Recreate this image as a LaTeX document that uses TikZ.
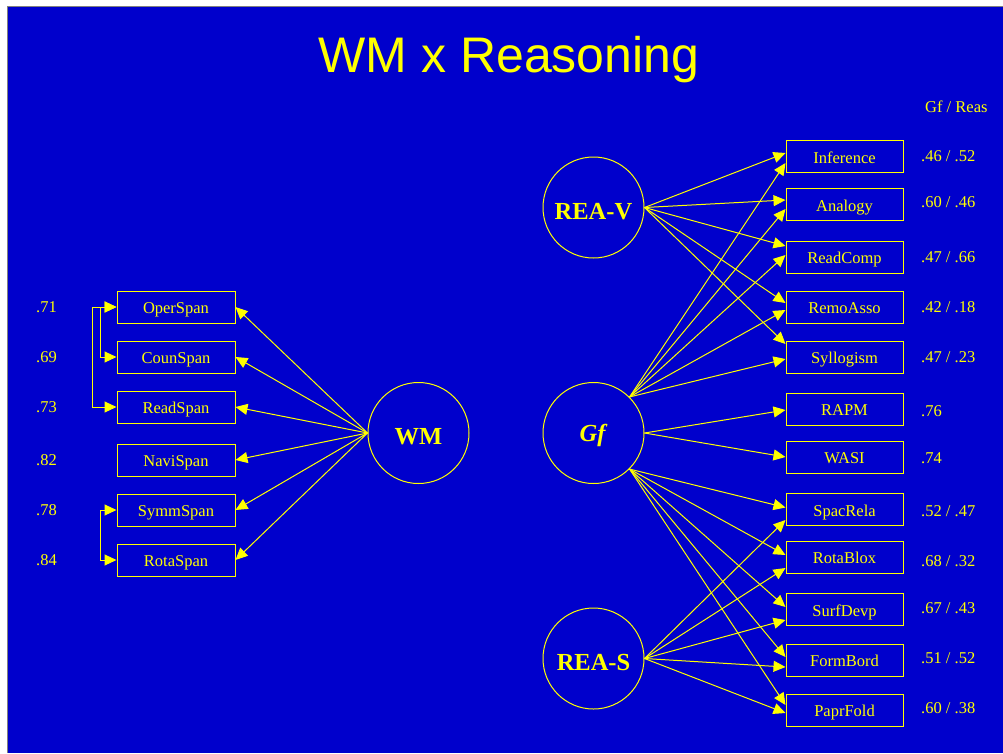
\documentclass[tikz,border=0pt]{standalone}
\usepackage{fontspec}
\setmainfont{Liberation Serif}
\newfontfamily\titlefont{Liberation Sans}
\usetikzlibrary{arrows.meta}
\definecolor{bg}{HTML}{0000CC}
\definecolor{fg}{HTML}{FFFF00}
\definecolor{edgegray}{HTML}{808080}
\tikzset{
  boxnode/.style={draw=fg, line width=1pt, minimum width=118pt, minimum height=32pt, inner sep=0pt,
    text=fg, font=\fontsize{16.5}{18}\selectfont, text height=13pt, text depth=0pt},
  latnode/.style={circle, draw=fg, line width=1pt, minimum size=101pt, inner sep=0pt,
    text=fg, font=\fontsize{24.5}{26}\selectfont\bfseries, text height=23pt, text depth=0pt},
  numlab/.style={anchor=west, inner sep=0pt, text=fg, font=\fontsize{16.5}{18}\selectfont},
  arr/.style={draw=fg, line width=1pt, -{Triangle[length=12pt,width=11pt]}},
  dblarr/.style={draw=fg, line width=1pt, {Triangle[length=12pt,width=11pt]}-{Triangle[length=12pt,width=11pt]}}
}
\begin{document}
\begin{tikzpicture}[x=1pt,y=-1pt]
\useasboundingbox (0,0) rectangle (1003,753);
\fill[white] (0,0) rectangle (1003,753);
\fill[edgegray] (6.5,5.5) rectangle (1003,753);
\fill[bg] (8,7) rectangle (1003,753);

% title
\node[anchor=base, inner sep=0pt, text=fg, font=\titlefont\fontsize{50}{56}\selectfont] (title) at (509,72) {WM x Reasoning};
\node[numlab] (head) at (925,107) {Gf / Reas};

% left boxes
\node[boxnode] (OperSpan) at (176,307) {OperSpan};
\node[boxnode] (CounSpan) at (176,357) {CounSpan};
\node[boxnode] (ReadSpan) at (176,407) {ReadSpan};
\node[boxnode] (NaviSpan) at (176,460) {NaviSpan};
\node[boxnode] (SymmSpan) at (176,510) {SymmSpan};
\node[boxnode] (RotaSpan) at (176,560) {RotaSpan};

\node[numlab] (l1) at (36,307) {.71};
\node[numlab] (l2) at (36,357) {.69};
\node[numlab] (l3) at (36,407) {.73};
\node[numlab] (l4) at (36,460) {.82};
\node[numlab] (l5) at (36,510) {.78};
\node[numlab] (l6) at (36,560) {.84};

% latent variables
\node[latnode] (WM) at (418.5,433) {WM};
\node[latnode] (REAV) at (593.5,207.5) {REA-V};
\node[latnode, text height=16pt] (Gf) at (593.5,433) {\textit{Gf}};
\node[latnode] (REAS) at (593.5,658.5) {REA-S};

% right boxes
\node[boxnode, minimum width=117pt] (Inference) at (844.5,156.5) {Inference};
\node[boxnode, minimum width=117pt] (Analogy) at (844.5,204.5) {Analogy};
\node[boxnode, minimum width=117pt] (ReadComp) at (844.5,257) {ReadComp};
\node[boxnode, minimum width=117pt] (RemoAsso) at (844.5,307) {RemoAsso};
\node[boxnode, minimum width=117pt] (Syllogism) at (844.5,357) {Syllogism};
\node[boxnode, minimum width=117pt] (RAPM) at (844.5,409) {RAPM};
\node[boxnode, minimum width=117pt] (WASI) at (844.5,457) {WASI};
\node[boxnode, minimum width=117pt] (SpacRela) at (844.5,509.5) {SpacRela};
\node[boxnode, minimum width=117pt] (RotaBlox) at (844.5,557) {RotaBlox};
\node[boxnode, minimum width=117pt] (SurfDevp) at (844.5,609.5) {SurfDevp};
\node[boxnode, minimum width=117pt] (FormBord) at (844.5,660) {FormBord};
\node[boxnode, minimum width=117pt] (PaprFold) at (844.5,710) {PaprFold};

\node[numlab] (r1) at (921,156) {.46 / .52};
\node[numlab] (r2) at (921,202) {.60 / .46};
\node[numlab] (r3) at (921,257) {.47 / .66};
\node[numlab] (r4) at (921,307) {.42 / .18};
\node[numlab] (r5) at (921,357) {.47 / .23};
\node[numlab] (r6) at (921,411) {.76};
\node[numlab] (r7) at (921,458) {.74};
\node[numlab] (r8) at (921,511) {.52 / .47};
\node[numlab] (r9) at (921,561) {.68 / .32};
\node[numlab] (r10) at (921,608) {.67 / .43};
\node[numlab] (r11) at (921,658) {.51 / .52};
\node[numlab] (r12) at (921,708) {.60 / .38};

% WM loadings
\foreach \b in {OperSpan,CounSpan,ReadSpan,NaviSpan,SymmSpan,RotaSpan}
  \draw[arr] (WM.west) -- (\b.east);

% correlated errors (brackets)
\draw[dblarr] (OperSpan.west) -- ++(-24,0) |- (ReadSpan.west);
\draw[dblarr] (OperSpan.west) -- ++(-16,0) |- (CounSpan.west);
\draw[dblarr] (SymmSpan.west) -- ++(-16,0) |- (RotaSpan.west);

% REA-V loadings
\draw[arr] (REAV.east) -- ([yshift=3.5pt]Inference.west);
\draw[arr] (REAV.east) -- ([yshift=4.5pt]Analogy.west);
\draw[arr] (REAV.east) -- ([yshift=11pt]ReadComp.west);
\draw[arr] (REAV.east) -- ([yshift=4pt]RemoAsso.west);
\draw[arr] (REAV.east) -- ([yshift=13pt]Syllogism.west);

% Gf loadings
\draw[arr] (Gf.45) -- ([yshift=-6.5pt]Inference.west);
\draw[arr] (Gf.45) -- ([yshift=-4.5pt]Analogy.west);
\draw[arr] (Gf.45) -- ([yshift=2pt]ReadComp.west);
\draw[arr] (Gf.45) -- ([yshift=-3pt]RemoAsso.west);
\draw[arr] (Gf.45) -- ([yshift=-2pt]Syllogism.west);
\draw[arr] (Gf.east) -- ([yshift=-1pt]RAPM.west);
\draw[arr] (Gf.east) -- (WASI.west);
\draw[arr] (Gf.-45) -- ([yshift=2pt]SpacRela.west);
\draw[arr] (Gf.-45) -- ([yshift=2pt]RotaBlox.west);
\draw[arr] (Gf.-45) -- ([yshift=2.5pt]SurfDevp.west);
\draw[arr] (Gf.-45) -- ([yshift=3pt]FormBord.west);
\draw[arr] (Gf.-45) -- ([yshift=5pt]PaprFold.west);

% REA-S loadings
\draw[arr] (REAS.east) -- ([yshift=-10.5pt]SpacRela.west);
\draw[arr] (REAS.east) -- ([yshift=-11pt]RotaBlox.west);
\draw[arr] (REAS.east) -- ([yshift=-10.5pt]SurfDevp.west);
\draw[arr] (REAS.east) -- ([yshift=-7pt]FormBord.west);
\draw[arr] (REAS.east) -- ([yshift=-3pt]PaprFold.west);
\end{tikzpicture}
\end{document}
